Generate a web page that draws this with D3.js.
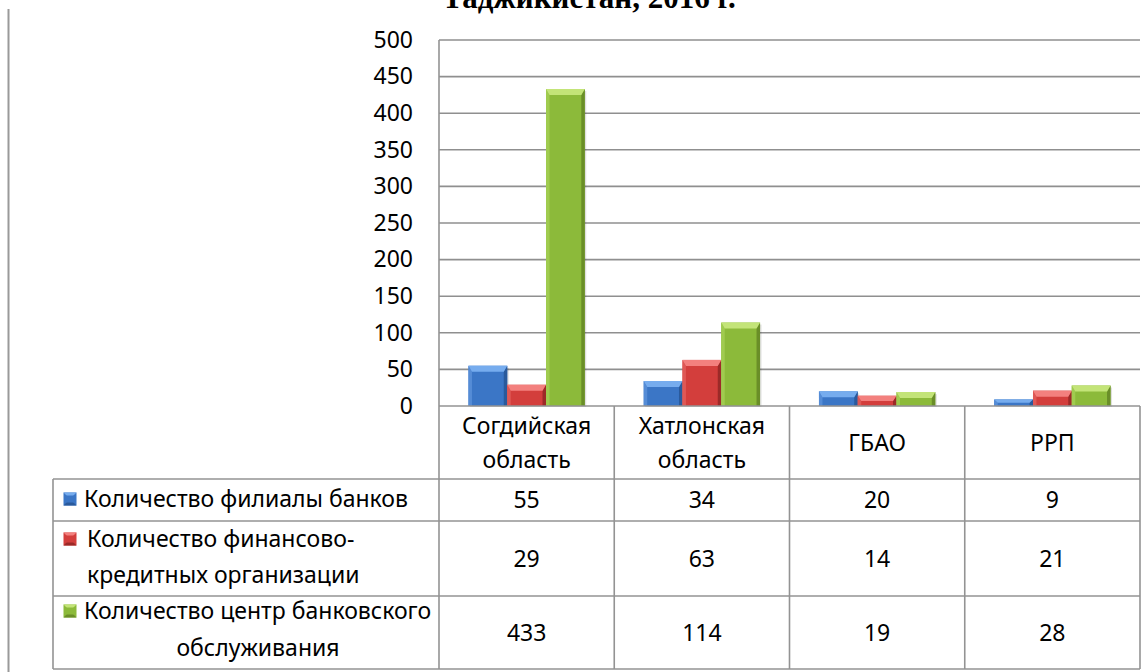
<!DOCTYPE html>
<html><head><meta charset="utf-8">
<script src="https://cdn.jsdelivr.net/npm/d3@7"></script>
<style>
html,body{margin:0;padding:0;background:#fff;}
svg{display:block;}
text{font-family:"Noto Sans","Open Sans",sans-serif;fill:#000;}
</style></head>
<body>
<svg id="c" width="1146" height="672"></svg>
<script>
// ---- data ----
const titleText = "Таджикистан, 2016 г.";
const categories = ["Согдийская область", "Хатлонская область", "ГБАО", "РРП"];
const categoryLines = [["Согдийская", "область"], ["Хатлонская", "область"], ["ГБАО"], ["РРП"]];
const seriesNames = ["Количество филиалы банков", "Количество финансово-кредитных организации", "Количество центр банковского обслуживания"];
const seriesLabelLines = [["Количество филиалы банков"], ["Количество финансово-", "кредитных организации"], ["Количество центр банковского", "обслуживания"]];
const branches = [55, 34, 20, 9];
const finOrgs = [29, 63, 14, 21];
const serviceCenters = [433, 114, 19, 28];
const yTicks = [0, 50, 100, 150, 200, 250, 300, 350, 400, 450, 500];
const seriesValues = [branches, finOrgs, serviceCenters];

const palette = [
  {face:"#3b76c6", light:"#76acee", left:"#558cd6", right:"#2a5a9c"},
  {face:"#d33e3c", light:"#f3807e", left:"#df5855", right:"#9c2a28"},
  {face:"#8cba3a", light:"#c3e478", left:"#a0cb4f", right:"#6a8e28"}
];

const svg = d3.select("#c");
const gridColor = "#8f8f8f";

// layout
const plotL = 439, plotR = 1140, plotT = 40, plotB = 406;
const tableL = 53;
const rowEdges = [406, 479, 521, 596, 669];

const x = d3.scaleBand().domain(categories).range([plotL, plotR]);
const xs = d3.scaleBand().domain(seriesNames).range([0, x.bandwidth()]).paddingInner(0).paddingOuter(0.76);
const y = d3.scaleLinear().domain([0, 500]).range([plotB, plotT]);

// title (cut at the top like the reference)
svg.append("text").attr("x", 589).attr("y", 8).attr("text-anchor", "middle")
  .style("font-family", "'Liberation Serif','Times New Roman',serif")
  .style("font-weight", "bold").style("font-size", "31px").text(titleText);

// left page line
svg.append("line").attr("x1", 8.5).attr("x2", 8.5).attr("y1", 9).attr("y2", 672)
  .attr("stroke", "#9a9a9a").attr("stroke-width", 2);

// gridlines
svg.append("g").selectAll("line").data(yTicks.filter(d => d > 0)).join("line")
  .attr("x1", plotL).attr("x2", plotR)
  .attr("y1", d => y(d)).attr("y2", d => y(d))
  .attr("stroke", gridColor).attr("stroke-width", 1.6);

const fs = "23px";
// y axis labels
const yAxis = d3.axisLeft(y).tickValues(yTicks).tickSize(0).tickPadding(0);
const ya = svg.append("g").attr("transform", `translate(413,0)`).call(yAxis);
ya.select(".domain").remove();
ya.selectAll("text").style("font-family", "'Noto Sans',sans-serif").style("font-size", fs).attr("fill", "#000");

// shadows + bars
const gBars = svg.append("g");
seriesNames.forEach((s, si) => {
  const c = palette[si];
  seriesValues[si].forEach((v, ci) => {
    const x0 = x(categories[ci]) + xs(s), w = xs.bandwidth(), x1 = x0 + w;
    const yT = y(v), yB = y(0), h = yB - yT;
    const b = Math.min(6, h / 2), sd = Math.min(3.5, w / 6);
    const g = gBars.append("g");
    g.append("rect").attr("x", x0 + 1.5).attr("y", yT + 2).attr("width", w).attr("height", h - 1)
      .attr("fill", "#000").attr("opacity", 0.12);
    g.append("rect").attr("x", x0).attr("y", yT).attr("width", w).attr("height", h).attr("fill", c.face);
    g.append("polygon").attr("points", [[x0, yT], [x0 + sd, yT + b], [x0 + sd, yB], [x0, yB]].join(" ")).attr("fill", c.left);
    g.append("polygon").attr("points", [[x1, yT], [x1 - sd, yT + b], [x1 - sd, yB], [x1, yB]].join(" ")).attr("fill", c.right);
    g.append("polygon").attr("points", [[x0, yT], [x1, yT], [x1 - sd, yT + b], [x0 + sd, yT + b]].join(" ")).attr("fill", c.light);
  });
});

// axis line (left) & table
const tbl = svg.append("g").attr("stroke", "#939393").attr("stroke-width", 1.6).attr("fill", "none");
tbl.append("line").attr("x1", plotL).attr("x2", plotL).attr("y1", plotT).attr("y2", rowEdges[4]);
tbl.append("line").attr("x1", plotL).attr("x2", plotR).attr("y1", plotB).attr("y2", plotB);
rowEdges.slice(1).forEach(r => tbl.append("line").attr("x1", tableL).attr("x2", plotR).attr("y1", r).attr("y2", r));
tbl.append("line").attr("x1", tableL).attr("x2", tableL).attr("y1", rowEdges[1]).attr("y2", rowEdges[4]);
categories.forEach(cat => {
  const xr = x(cat) + x.bandwidth();
  tbl.append("line").attr("x1", xr).attr("x2", xr).attr("y1", plotB).attr("y2", rowEdges[4]);
});

// header category text
categories.forEach((cat, ci) => {
  const lines = categoryLines[ci];
  const cx = x(cat) + x.bandwidth() / 2;
  const cy = (rowEdges[0] + rowEdges[1]) / 2;
  const lh = 34;
  lines.forEach((ln, li) => {
    svg.append("text").attr("x", cx).attr("y", cy + (li - (lines.length - 1) / 2) * lh)
      .attr("dy", "0.35em").attr("text-anchor", "middle").style("font-size", fs).text(ln);
  });
});

// value cells
seriesValues.forEach((vals, si) => {
  const cy = (rowEdges[si + 1] + rowEdges[si + 2]) / 2;
  vals.forEach((v, ci) => {
    svg.append("text").attr("x", x(categories[ci]) + x.bandwidth() / 2).attr("y", cy)
      .attr("dy", "0.35em").attr("text-anchor", "middle").style("font-size", fs).text(v);
  });
});

// legend cells
function icon(g, cx, cy, c) {
  const s = 13, x0 = cx - s / 2, y0 = cy - s / 2, x1 = x0 + s, y1 = y0 + s;
  g.append("rect").attr("x", x0).attr("y", y0).attr("width", s).attr("height", s).attr("fill", c.face);
  g.append("polygon").attr("points", [[x0, y0], [x1, y0], [x0 + s / 2, y0 + s / 2]].join(" ")).attr("fill", c.light);
  g.append("polygon").attr("points", [[x0, y1], [x1, y1], [x0 + s / 2, y0 + s / 2]].join(" ")).attr("fill", c.right);
  g.append("rect").attr("x", x0 + 2).attr("y", y0 + 3).attr("width", s - 4).attr("height", s - 6).attr("fill", c.face);
}
const legendLayout = [
  {lines: [[84, 499, "start"]]},
  {lines: [[87, 539, "start"], [87, 575, "start"]]},
  {lines: [[84, 611, "start"], [258, 648, "middle"]]}
];
seriesNames.forEach((s, si) => {
  const g = svg.append("g");
  const L = legendLayout[si].lines;
  icon(g, 70, L[0][1], palette[si]);
  seriesLabelLines[si].forEach((ln, li) => {
    g.append("text").attr("x", L[li][0]).attr("y", L[li][1]).attr("dy", "0.35em")
      .attr("text-anchor", L[li][2]).style("font-size", fs).text(ln);
  });
});
</script>
</body></html>
